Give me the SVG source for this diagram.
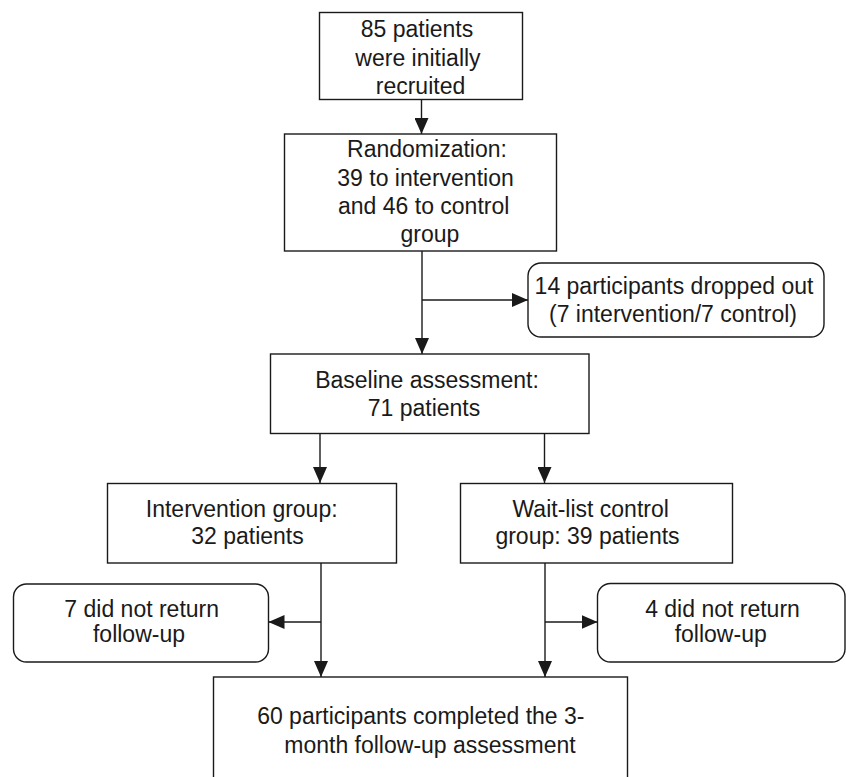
<svg xmlns="http://www.w3.org/2000/svg" width="846" height="777" viewBox="0 0 846 777">
<style>
.box{fill:#fff;stroke:#1a1a1a;stroke-width:1.4}
.ln{fill:none;stroke:#1a1a1a;stroke-width:1.4}
text{font-family:"Liberation Sans",Arial,Helvetica,sans-serif;font-size:23px;fill:#1a1a1a;text-anchor:middle}
</style>
<defs>
<marker id="ah" markerUnits="userSpaceOnUse" markerWidth="16" markerHeight="14" refX="16" refY="7" orient="auto">
<path d="M0,0 L16,7 L0,14 z" fill="#1a1a1a"/>
</marker>
</defs>
<rect width="846" height="777" fill="#fff"/>
<g id="connectors">
<line class="ln" x1="421.5" y1="99" x2="421.5" y2="134" marker-end="url(#ah)"/>
<line class="ln" x1="422" y1="251" x2="422" y2="354" marker-end="url(#ah)"/>
<line class="ln" x1="422" y1="300" x2="528" y2="300" marker-end="url(#ah)"/>
<line class="ln" x1="320" y1="433" x2="320" y2="483" marker-end="url(#ah)"/>
<line class="ln" x1="544.5" y1="433" x2="544.5" y2="483" marker-end="url(#ah)"/>
<line class="ln" x1="321" y1="563" x2="321" y2="677" marker-end="url(#ah)"/>
<line class="ln" x1="321" y1="622" x2="268.5" y2="622" marker-end="url(#ah)"/>
<line class="ln" x1="545" y1="563" x2="545" y2="677" marker-end="url(#ah)"/>
<line class="ln" x1="545" y1="622" x2="597.5" y2="622" marker-end="url(#ah)"/>
</g>
<g id="recruited">
<rect class="box" x="319.5" y="12.5" width="203" height="87"/>
<text x="417" y="36.7">85 patients</text>
<text x="418" y="65.7">were initially</text>
<text x="420.5" y="94.3">recruited</text>
</g>
<g id="randomization">
<rect class="box" x="284.5" y="134" width="272" height="117"/>
<text x="427" y="157.3">Randomization:</text>
<text x="425.5" y="185.7">39 to intervention</text>
<text x="423.7" y="214.3">and 46 to control</text>
<text x="430" y="241.7">group</text>
</g>
<g id="dropped">
<rect class="box" x="528" y="263" width="296" height="74" rx="13" ry="13"/>
<text x="674" y="294">14 participants dropped out</text>
<text x="673" y="321.7">(7 intervention/7 control)</text>
</g>
<g id="baseline">
<rect class="box" x="270.5" y="354" width="318.5" height="79.5"/>
<text x="427" y="388.3">Baseline assessment:</text>
<text x="424" y="416">71 patients</text>
</g>
<g id="intervention">
<rect class="box" x="107.5" y="483.5" width="289" height="79.5"/>
<text x="241.7" y="517.3">Intervention group:</text>
<text x="247.5" y="544">32 patients</text>
</g>
<g id="waitlist">
<rect class="box" x="460.5" y="483.5" width="272" height="79.5"/>
<text x="590.7" y="517.3">Wait-list control</text>
<text x="587.5" y="544">group: 39 patients</text>
</g>
<g id="lost-intervention">
<rect class="box" x="13.5" y="584" width="255" height="78" rx="13" ry="13"/>
<text x="141.7" y="617.3">7 did not return</text>
<text x="139" y="642.3">follow-up</text>
</g>
<g id="lost-control">
<rect class="box" x="597.5" y="583.5" width="247.5" height="78.5" rx="13" ry="13"/>
<text x="722.5" y="617.3">4 did not return</text>
<text x="720.7" y="642.3">follow-up</text>
</g>
<g id="completed">
<rect class="box" x="213.5" y="677" width="414" height="120"/>
<text x="420.8" y="724.3">60 participants completed the 3-</text>
<text x="430" y="752.7">month follow-up assessment</text>
</g>
</svg>
